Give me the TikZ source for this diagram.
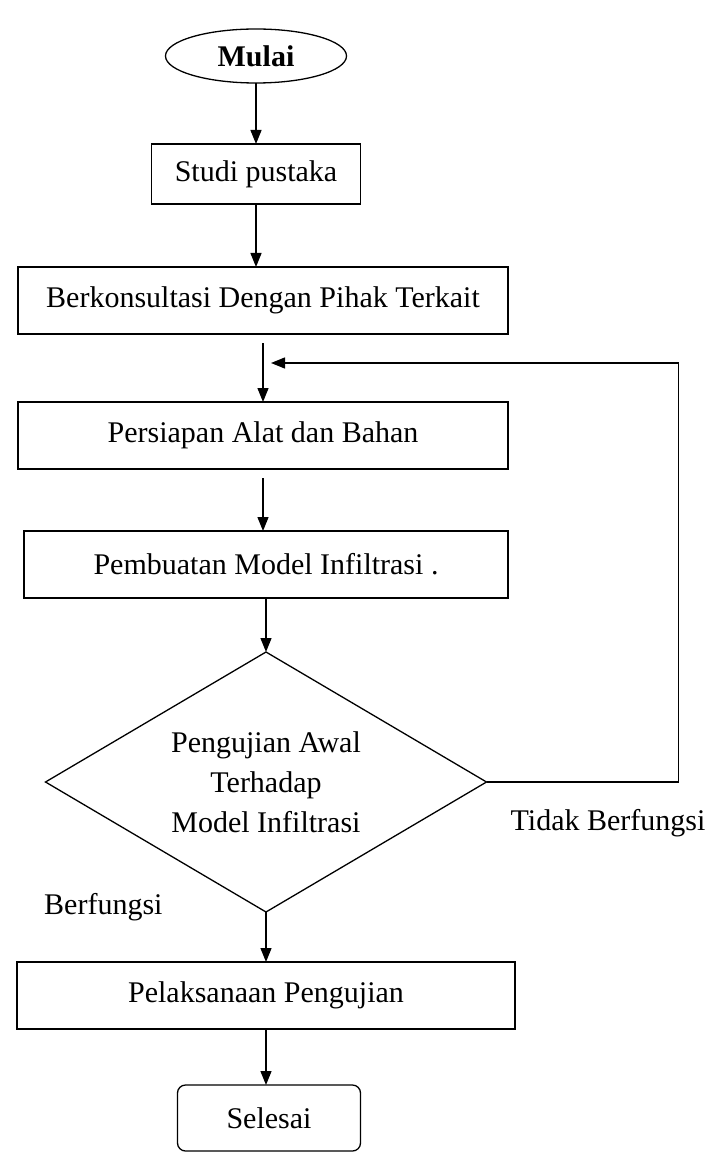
\documentclass[tikz,border=0pt]{standalone}
\usepackage{fontspec}
\setmainfont{Liberation Serif}
\usepackage{tikz}
\usetikzlibrary{shapes.geometric, arrows.meta, positioning}

\begin{document}
\begin{tikzpicture}[
  x=1pt, y=1pt,
  every node/.style={font=\fontsize{30}{40}\selectfont},
  box/.style={draw, line width=1.3pt, minimum height=67pt, minimum width=490pt,
    align=center, inner sep=0pt, outer sep=0pt},
  start/.style={draw, ellipse, line width=1.3pt, minimum width=181pt,
    minimum height=54pt, inner sep=0pt, outer sep=0pt},
  stopbox/.style={draw, rounded corners=8pt, line width=1.3pt, minimum width=183pt,
    minimum height=66pt, inner sep=0pt, outer sep=0pt},
  decision/.style={draw, diamond, aspect=1.7, line width=1.3pt, minimum width=441pt,
    minimum height=260pt, align=center, inner sep=0pt, outer sep=0pt},
  lbl/.style={inner sep=0pt},
  arr/.style={-{Triangle[length=14pt,width=11pt]}, line width=1.3pt}
]
  \useasboundingbox (0,0) rectangle (717,-1155);

  \node[start] (mulai) at (256,-56) {\textbf{Mulai}};
  \node[box, below=61pt of mulai, minimum width=209pt, minimum height=60pt] (studi) {Studi pustaka};
  \node[box, below=63pt of studi, xshift=7pt] (berk) {Berkonsultasi Dengan Pihak Terkait};
  \node[box, below=68pt of berk] (persiapan) {Persiapan Alat dan Bahan};
  \node[box, below=62pt of persiapan, xshift=3pt, minimum width=484pt] (pembuatan) {Pembuatan Model Infiltrasi .};
  \node[decision, below=54pt of pembuatan] (pengujian) {Pengujian Awal\\Terhadap\\Model Infiltrasi};
  \node[box, below=50pt of pengujian, minimum width=498pt] (pelaksanaan) {Pelaksanaan Pengujian};
  \node[stopbox, below=56pt of pelaksanaan, xshift=3pt] (selesai) {Selesai};

  \coordinate[below=29pt of berk.south, xshift=8pt] (balik);

  \node[lbl, anchor=west] (tidak) at ([shift={(24pt,-41pt)}]pengujian.east) {Tidak Berfungsi};
  \node[lbl, anchor=west] (fungsi) at ([shift={(-222pt,5pt)}]pengujian.south) {Berfungsi};

  \draw[arr] (mulai) -- (mulai |- studi.north);
  \draw[arr] (studi) -- (studi |- berk.north);
  \draw[arr, shorten <=9pt] (berk) -- (berk |- persiapan.north);
  \draw[arr, shorten <=9pt] (persiapan) -- (persiapan |- pembuatan.north);
  \draw[arr] (pembuatan) -- (pengujian);
  \draw[arr] (pengujian) -- (pengujian |- pelaksanaan.north);
  \draw[arr] (pelaksanaan) -- (pelaksanaan |- selesai.north);
  \draw[arr] (pengujian.east) -- ++(192pt,0) |- (balik);
\end{tikzpicture}
\end{document}
